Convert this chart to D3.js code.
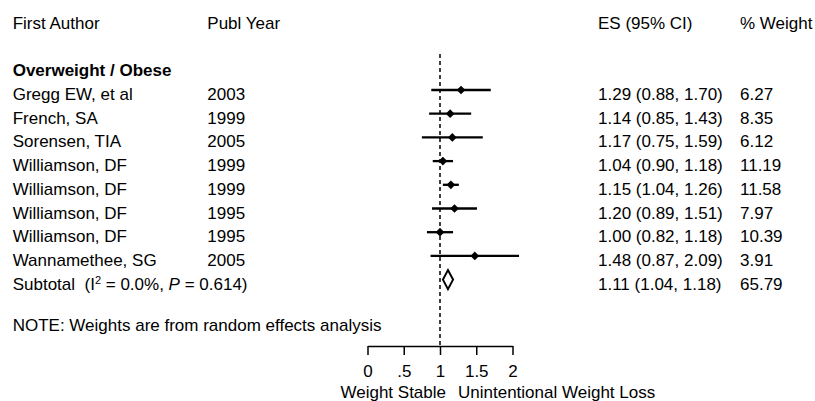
<!DOCTYPE html>
<html>
<head>
<meta charset="utf-8">
<script src="https://cdn.jsdelivr.net/npm/d3@7"></script>
<style>
  body { margin: 0; background: #fff; }
  svg text { font-family: "Liberation Sans", Arial, sans-serif; font-size: 17px; fill: #000; }
</style>
</head>
<body>
<svg id="chart" width="815" height="401"></svg>
<script>
var authors = ['Gregg EW, et al', 'French, SA', 'Sorensen, TIA', 'Williamson, DF',
  'Williamson, DF', 'Williamson, DF', 'Williamson, DF', 'Wannamethee, SG'];
var years = ['2003', '1999', '2005', '1999', '1999', '1995', '1995', '2005'];
var es = [1.29, 1.14, 1.17, 1.04, 1.15, 1.20, 1.00, 1.48];
var lower = [0.88, 0.85, 0.75, 0.90, 1.04, 0.89, 0.82, 0.87];
var upper = [1.70, 1.43, 1.59, 1.18, 1.26, 1.51, 1.18, 2.09];
var weights = ['6.27', '8.35', '6.12', '11.19', '11.58', '7.97', '10.39', '3.91'];

var subEs = 1.11, subLower = 1.04, subUpper = 1.18, subWeight = '65.79';
var tickValues = [0, 0.5, 1, 1.5, 2];
var tickLabels = ['0', '.5', '1', '1.5', '2'];

var svg = d3.select('#chart');

/////////////
// scales
/////////////
var x = d3.scaleLinear().domain([0, 2]).range([367.5, 512.5]);
// one unit = one table row, row 0 = first study
var y = d3.scaleLinear().domain([0, 1]).range([90, 113.7]);
var textShift = 10; // text baseline sits below the line centre

var col = { author: 12.7, year: 207.3, es: 598, weight: 740 };

function fmt(v) { return d3.format('.2f')(v); }

// header
svg.append('text').attr('x', col.author).attr('y', y(-3) + textShift).text('First Author');
svg.append('text').attr('x', col.year).attr('y', y(-3) + textShift).text('Publ Year');
svg.append('text').attr('x', col.es).attr('y', y(-3) + textShift).text('ES (95% CI)');
svg.append('text').attr('x', col.weight).attr('y', y(-3) + textShift).text('% Weight');

svg.append('text').attr('x', col.author).attr('y', y(-1) + textShift)
  .style('font-weight', 'bold').text('Overweight / Obese');

// null line
svg.append('line')
  .attr('x1', x(1)).attr('x2', x(1))
  .attr('y1', 54).attr('y2', 346)
  .attr('stroke', '#000').attr('stroke-width', 1.5)
  .attr('stroke-dasharray', '4,3');

// study rows
var rows = svg.selectAll('g.study').data(d3.range(authors.length)).enter()
  .append('g').attr('class', 'study');

rows.append('text').attr('x', col.author).attr('y', function(i) { return y(i) + textShift; })
  .text(function(i) { return authors[i]; });
rows.append('text').attr('x', col.year).attr('y', function(i) { return y(i) + textShift; })
  .text(function(i) { return years[i]; });
rows.append('text').attr('x', col.es).attr('y', function(i) { return y(i) + textShift; })
  .text(function(i) { return fmt(es[i]) + ' (' + fmt(lower[i]) + ', ' + fmt(upper[i]) + ')'; });
rows.append('text').attr('x', col.weight).attr('y', function(i) { return y(i) + textShift; })
  .text(function(i) { return weights[i]; });

rows.append('line')
  .attr('x1', function(i) { return x(lower[i]); })
  .attr('x2', function(i) { return x(upper[i]); })
  .attr('y1', function(i) { return y(i); })
  .attr('y2', function(i) { return y(i); })
  .attr('stroke', '#000').attr('stroke-width', 2.3);

rows.append('path')
  .attr('d', d3.symbol().type(d3.symbolSquare).size(38))
  .attr('transform', function(i) { return 'translate(' + x(es[i]) + ',' + y(i) + ') rotate(45)'; })
  .attr('fill', '#000');

// subtotal
var subRow = authors.length;
var subLabel = svg.append('text').attr('x', col.author).attr('y', y(subRow) + textShift)
  .style('white-space', 'pre');
subLabel.append('tspan').text('Subtotal  (I');
subLabel.append('tspan').attr('dy', -6).style('font-size', '11px').text('2');
subLabel.append('tspan').attr('dy', 6).text(' = 0.0%, ');
subLabel.append('tspan').style('font-style', 'italic').text('P');
subLabel.append('tspan').text(' = 0.614)');

svg.append('text').attr('x', col.es).attr('y', y(subRow) + textShift)
  .text(fmt(subEs) + ' (' + fmt(subLower) + ', ' + fmt(subUpper) + ')');
svg.append('text').attr('x', col.weight).attr('y', y(subRow) + textShift).text(subWeight);

var h = 9.5;
svg.append('path')
  .attr('d', 'M' + x(subLower) + ',' + y(subRow) +
    'L' + x(subEs) + ',' + (y(subRow) - h) +
    'L' + x(subUpper) + ',' + y(subRow) +
    'L' + x(subEs) + ',' + (y(subRow) + h) + 'Z')
  .attr('fill', '#fff').attr('stroke', '#000').attr('stroke-width', 2);

svg.append('text').attr('x', col.author).attr('y', 331)
  .text('NOTE: Weights are from random effects analysis');

/////////////
// x axis
/////////////
var axis = d3.axisBottom(x)
  .tickValues(tickValues)
  .tickFormat(function(d, i) { return tickLabels[i]; })
  .tickSize(9)
  .tickPadding(10)
  .tickSizeOuter(0);

var gAxis = svg.append('g').attr('transform', 'translate(0,346)').call(axis);
gAxis.select('.domain').attr('stroke-width', 1.5);
gAxis.selectAll('.tick line').attr('stroke-width', 1.5);
gAxis.selectAll('.tick text').style('font-size', '17px')
  .style('font-family', '"Liberation Sans", Arial, sans-serif');

svg.append('text').attr('x', 446).attr('y', 398).attr('text-anchor', 'end').text('Weight Stable');
svg.append('text').attr('x', 458).attr('y', 398).text('Unintentional Weight Loss');
</script>
</body>
</html>
